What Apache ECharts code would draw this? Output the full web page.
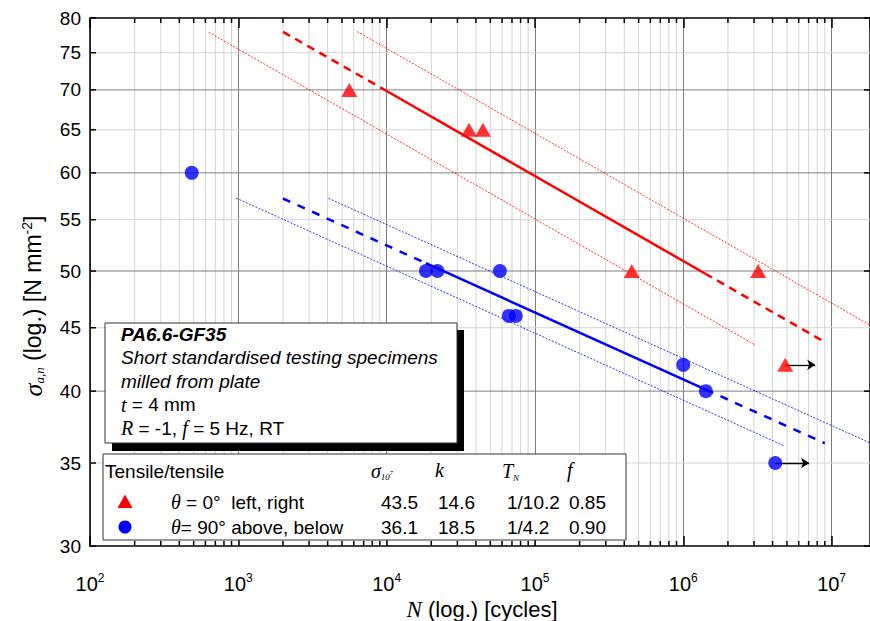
<!DOCTYPE html>
<html><head><meta charset="utf-8">
<script src="https://cdn.jsdelivr.net/npm/echarts/dist/echarts.min.js"></script>
<style>html,body{margin:0;padding:0;background:#fff}#c{width:870px;height:621px}</style>
</head><body><div id="c"></div>
<script>
// ---------- data ----------
const decades = [100, 1000, 10000, 100000, 1000000, 10000000];
const minorFactors = [2, 3, 4, 5, 6, 7, 8, 9];
const yTickValues = [30, 35, 40, 45, 50, 55, 60, 65, 70, 75, 80];

// theta = 0° (red triangles): [N, sigma]
const redPoints = [[5600, 70], [35900, 65], [44600, 65], [449000, 50], [3200000, 50], [4870000, 42]];
// theta = 90° (blue circles)
const bluePoints = [[485, 60], [18400, 50], [22000, 50], [58000, 50], [66700, 46], [74300, 46], [1000000, 42], [1420000, 40], [4170000, 35]];

// run-outs (arrows)
const redRunout = [[4870000, 42], [7750000, 42]];
const blueRunout = [[4170000, 35], [7050000, 35]];

// S-N lines (end points)
const redMeanDashA = [[2000, 77.97], [10000, 69.85]];
const redMeanSolid = [[10000, 69.85], [1400000, 49.77]];
const redMeanDashB = [[1400000, 49.77], [9000000, 43.82]];
const redBandLow = [[631, 77.92], [3060000, 43.57]];
const redBandHigh = [[6340, 78.0], [30000000, 43.69]];

const blueMeanDashA = [[2000, 57.21], [18400, 50.73]];
const blueMeanSolid = [[18400, 50.73], [1420000, 40.11]];
const blueMeanDashB = [[1420000, 40.11], [9000000, 36.31]];
const blueBandLow = [[968, 57.25], [4800000, 36.13]];
const blueBandHigh = [[4060, 57.23], [30000000, 35.36]];

// legend table
const legendRows = ['\u03b8 = 0\u00b0  left, right', '\u03b8= 90\u00b0 above, below'];
const sigma107 = ['43.5', '36.1'];
const kVals = ['14.6', '18.5'];
const tnVals = ['1/10.2', '1/4.2'];
const fVals = ['0.85', '0.90'];

const infoLines = ['PA6.6-GF35', 'Short standardised testing specimens', 'milled from plate'];

// ---------- setup ----------
const X_MIN = 100, X_MAX = 1.815e7, Y_MIN = 30, Y_MAX = 80;
const SANS = '"Liberation Sans", Arial, sans-serif';
const SERIF = '"Liberation Serif", "Times New Roman", serif';
const RED = '#ff0000', BLUE = '#0000ff';
const MAJOR_GRID = '#7d7d7d', MINOR_GRID = '#d4d4d4';
const FS = 19;

const xMinorTicks = [];
decades.forEach(d => minorFactors.forEach(f => { if (d * f < X_MAX) xMinorTicks.push(d * f); }));

const chart = echarts.init(document.getElementById('c'), null, {renderer: 'svg'});

function lineSeries(data, color, width, type, z) {
  return {type: 'line', data: data, showSymbol: false, symbol: 'none', silent: true, z: z || 3,
    lineStyle: {color: color, width: width, type: type}, animation: false};
}

function renderXMinor(params, api) {
  const v = api.value(0);
  const top = api.coord([v, Y_MAX]);
  const bot = api.coord([v, Y_MIN]);
  return {type: 'group', children: [
    {type: 'line', shape: {x1: top[0], y1: top[1], x2: bot[0], y2: bot[1]}, style: {stroke: MINOR_GRID, lineWidth: 1}},
    {type: 'line', shape: {x1: top[0], y1: top[1], x2: top[0], y2: top[1] + 5}, style: {stroke: '#000', lineWidth: 1.5}},
    {type: 'line', shape: {x1: bot[0], y1: bot[1], x2: bot[0], y2: bot[1] - 5}, style: {stroke: '#000', lineWidth: 1.5}}
  ]};
}

function renderYGrid(params, api) {
  const v = api.value(1);
  const L = api.coord([X_MIN, v]);
  const R = api.coord([X_MAX, v]);
  const major = v % 10 === 0;
  const ch = [];
  if (v !== Y_MIN && v !== Y_MAX) {
    ch.push({type: 'line', shape: {x1: L[0], y1: L[1], x2: R[0], y2: R[1]}, style: {stroke: major ? MAJOR_GRID : MINOR_GRID, lineWidth: 1}});
  }
  ch.push({type: 'line', shape: {x1: L[0], y1: L[1], x2: L[0] + 6, y2: L[1]}, style: {stroke: '#000', lineWidth: 1.5}});
  if (major) ch.push({type: 'line', shape: {x1: R[0] - 6, y1: R[1], x2: R[0], y2: R[1]}, style: {stroke: '#000', lineWidth: 1.5}});
  ch.push({type: 'text', x: L[0] - 9, y: L[1], style: {text: String(v), align: 'right', verticalAlign: 'middle', fontSize: 19, fontFamily: SANS, fill: '#000'}});
  return {type: 'group', children: ch};
}

const xAxisCommon = {
  type: 'log', logBase: 10, min: X_MIN, max: X_MAX,
  axisLine: {show: true, onZero: false, lineStyle: {color: '#000', width: 1.5}},
  axisTick: {show: true, inside: true, length: 10, lineStyle: {color: '#000', width: 1.5}},
  minorTick: {show: false}
};
const yAxisCommon = {
  type: 'log', logBase: 10, min: Y_MIN, max: Y_MAX,
  axisLine: {show: true, onZero: false, lineStyle: {color: '#000', width: 1.5}},
  axisTick: {show: false}, axisLabel: {show: false}, splitLine: {show: false}
};

const arrowMark = (pts) => ({
  silent: true, symbol: ['none', 'arrow'], symbolSize: [8, 8], label: {show: false}, animation: false,
  lineStyle: {color: '#000', width: 1.3, type: 'solid'},
  data: [[{coord: pts[0]}, {coord: pts[1]}]]
});

// graphic: info box + legend table + axis titles
const infoX = 121, infoY0 = 334, infoDy = 23.6;
const graphic = [
  {type: 'rect', z: 100, shape: {x: 112, y: 330, width: 352, height: 121}, style: {fill: '#000'}},
  {type: 'rect', z: 101, shape: {x: 105, y: 323, width: 352, height: 120}, style: {fill: '#fff', stroke: '#333', lineWidth: 1}},
  {type: 'text', z: 102, x: infoX, y: infoY0, style: {text: infoLines[0], fontSize: FS, fontFamily: SANS, fontStyle: 'italic', fontWeight: 'bold', verticalAlign: 'middle', fill: '#000'}},
  {type: 'text', z: 102, x: infoX, y: infoY0 + infoDy, style: {text: infoLines[1], fontSize: FS, fontFamily: SANS, fontStyle: 'italic', verticalAlign: 'middle', fill: '#000'}},
  {type: 'text', z: 102, x: infoX, y: infoY0 + 2 * infoDy, style: {text: infoLines[2], fontSize: FS, fontFamily: SANS, fontStyle: 'italic', verticalAlign: 'middle', fill: '#000'}},
  {type: 'text', z: 102, x: infoX, y: infoY0 + 3 * infoDy, style: {text: '{i|t} = 4 mm', fontSize: FS, fontFamily: SANS, verticalAlign: 'middle', fill: '#000',
    rich: {i: {fontFamily: SERIF, fontStyle: 'italic', fontSize: 20}}}},
  {type: 'text', z: 102, x: infoX, y: infoY0 + 4 * infoDy, style: {text: '{i|R} = -1, {i|f} = 5 Hz, RT', fontSize: FS, fontFamily: SANS, verticalAlign: 'middle', fill: '#000',
    rich: {i: {fontFamily: SERIF, fontStyle: 'italic', fontSize: 20}}}},

  {type: 'rect', z: 100, shape: {x: 103, y: 454, width: 523, height: 86}, style: {fill: '#fff', stroke: '#333', lineWidth: 1}},
  {type: 'text', z: 102, x: 105, y: 471, style: {text: 'Tensile/tensile', fontSize: FS, fontFamily: SANS, verticalAlign: 'middle', fill: '#000'}},
  {type: 'text', z: 102, x: 371, y: 471, style: {text: '{s|\u03c3}{b|10}{p|7}', verticalAlign: 'middle', fill: '#000',
    rich: {s: {fontFamily: SERIF, fontStyle: 'italic', fontSize: 20},
           b: {fontFamily: SERIF, fontStyle: 'italic', fontSize: 9, padding: [12, 0, 0, 0]},
           p: {fontFamily: SERIF, fontStyle: 'italic', fontSize: 6, padding: [4, 0, 0, 0]}}}},
  {type: 'text', z: 102, x: 435, y: 470, style: {text: 'k', fontFamily: SERIF, fontStyle: 'italic', fontSize: 20, verticalAlign: 'middle', fill: '#000'}},
  {type: 'text', z: 102, x: 502, y: 471, style: {text: '{s|T}{b|N}', verticalAlign: 'middle', fill: '#000',
    rich: {s: {fontFamily: SERIF, fontStyle: 'italic', fontSize: 20},
           b: {fontFamily: SERIF, fontStyle: 'italic', fontSize: 9, padding: [14, 0, 0, 0]}}}},
  {type: 'text', z: 102, x: 567, y: 470, style: {text: 'f', fontFamily: SERIF, fontStyle: 'italic', fontSize: 20, verticalAlign: 'middle', fill: '#000'}},
  {type: 'polygon', z: 102, shape: {points: [[125, 494.5], [132.5, 508], [117.5, 508]]}, style: {fill: RED}},
  {type: 'circle', z: 102, shape: {cx: 125, cy: 527, r: 6.5}, style: {fill: BLUE}}
];
const rowY = [502, 527];
const colX = [381, 438, 507, 569];
for (let r = 0; r < 2; r++) {
  graphic.push({type: 'text', z: 102, x: 171, y: rowY[r], style: {text: '{t|\u03b8}' + legendRows[r].slice(1), fontSize: FS, fontFamily: SANS, verticalAlign: 'middle', fill: '#000',
    rich: {t: {fontFamily: SERIF, fontStyle: 'italic', fontSize: 20}}}});
  [sigma107[r], kVals[r], tnVals[r], fVals[r]].forEach((txt, i) => {
    graphic.push({type: 'text', z: 102, x: colX[i], y: rowY[r], style: {text: txt, fontSize: FS, fontFamily: SANS, verticalAlign: 'middle', fill: '#000'}});
  });
}
// axis titles
graphic.push({type: 'text', z: 102, x: 482, y: 609, style: {text: '{n|N} (log.) [cycles]', fontSize: 22, fontFamily: SANS, align: 'center', verticalAlign: 'middle', fill: '#000',
  rich: {n: {fontFamily: SERIF, fontStyle: 'italic', fontSize: 23}}}});
graphic.push({type: 'text', z: 102, x: 33, y: 306, rotation: Math.PI / 2, style: {text: '{s|\u03c3}{b|a,n} (log.) [N mm{p|-2}]', fontSize: 23, fontFamily: SANS, align: 'center', verticalAlign: 'middle', fill: '#000',
  rich: {s: {fontFamily: SERIF, fontStyle: 'italic', fontSize: 26},
         b: {fontFamily: SERIF, fontStyle: 'italic', fontSize: 13, padding: [13, 0, 0, 0]},
         p: {fontFamily: SANS, fontSize: 14, padding: [0, 0, 13, 0]}}}});

const option = {
  animation: false,
  backgroundColor: '#fff',
  grid: {left: 90, right: -2, top: 18, bottom: 75, containLabel: false},
  xAxis: [
    Object.assign({}, xAxisCommon, {position: 'bottom',
      axisLabel: {show: true, margin: 26, showMaxLabel: false, color: '#000',
        formatter: v => '{b|10}{e|' + Math.round(Math.log10(v)) + '}',
        rich: {b: {fontSize: 20, fontFamily: SANS, color: '#000'}, e: {fontSize: 12, fontFamily: SANS, color: '#000', padding: [0, 0, 11, 0]}}},
      splitLine: {show: true, lineStyle: {color: MAJOR_GRID, width: 1}}}),
    Object.assign({}, xAxisCommon, {position: 'top', axisLabel: {show: false}, splitLine: {show: false}})
  ],
  yAxis: [
    Object.assign({}, yAxisCommon, {position: 'left'}),
    Object.assign({}, yAxisCommon, {position: 'right'})
  ],
  graphic: graphic,
  series: [
    {type: 'custom', silent: true, z: 1, clip: false, renderItem: renderXMinor, data: xMinorTicks.map(v => [v, Y_MIN]), animation: false},
    {type: 'custom', silent: true, z: 1, clip: false, renderItem: renderYGrid, data: yTickValues.map(v => [X_MIN, v]), animation: false},

    lineSeries(redBandLow, 'rgba(255,0,0,0.8)', 1, [2, 1.5]),
    lineSeries(redBandHigh, 'rgba(255,0,0,0.8)', 1, [2, 1.5]),
    lineSeries(redMeanDashA, RED, 2.5, [8, 6]),
    lineSeries(redMeanSolid, RED, 2.5, 'solid'),
    lineSeries(redMeanDashB, RED, 2.5, [8, 6]),
    lineSeries(blueBandLow, 'rgba(0,0,255,0.8)', 1, [2, 1.5]),
    lineSeries(blueBandHigh, 'rgba(0,0,255,0.8)', 1, [2, 1.5]),
    lineSeries(blueMeanDashA, BLUE, 2.5, [8, 8]),
    lineSeries(blueMeanSolid, BLUE, 2.5, 'solid'),
    lineSeries(blueMeanDashB, BLUE, 2.5, [8, 8]),

    {type: 'scatter', name: 'theta0', data: redPoints, symbol: 'triangle', symbolSize: [16, 14], z: 5, silent: true,
      itemStyle: {color: RED}, markLine: arrowMark(redRunout)},
    {type: 'scatter', name: 'theta90', data: bluePoints, symbol: 'circle', symbolSize: 14, z: 5, silent: true,
      itemStyle: {color: BLUE}, markLine: arrowMark(blueRunout)}
  ]
};
chart.setOption(option);
</script>
</body></html>
